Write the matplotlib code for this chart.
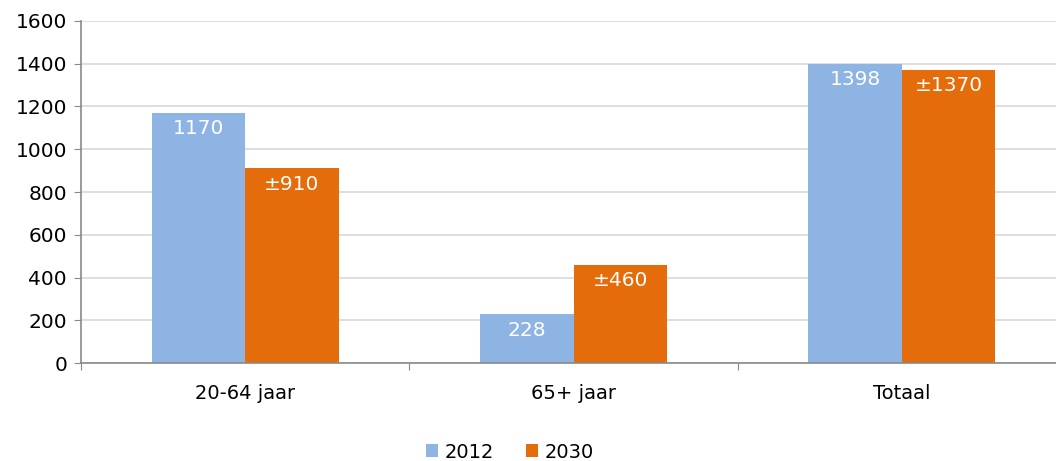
import numpy as np
import matplotlib.pyplot as plt

categories = ['20-64 jaar', '65+ jaar', 'Totaal']
years = ['2012', '2030']
values_2012 = [1170, 228, 1398]
values_2030 = [910, 460, 1370]
labels_2012 = ['1170', '228', '1398']
labels_2030 = ['±910', '±460', '±1370']
yticks = [0, 200, 400, 600, 800, 1000, 1200, 1400, 1600]

blue = '#8EB4E3'
orange = '#E46C0A'

plt.rcParams['font.family'] = ['DejaVu Sans']

fig = plt.figure(figsize=(10.56, 4.61), dpi=100)
ax = fig.add_axes([81 / 1056, 1 - 363 / 461, 985 / 1056, 342 / 461])

x = np.arange(len(categories))
w = 0.285
b1 = ax.bar(x - w / 2, values_2012, w, color=blue, label=years[0], zorder=2)
b2 = ax.bar(x + w / 2, values_2030, w, color=orange, label=years[1], zorder=2)

# value labels inside the top of each bar
for bars, labs in [(b1, labels_2012), (b2, labels_2030)]:
    for bar, lab in zip(bars, labs):
        ax.annotate(lab, (bar.get_x() + bar.get_width() / 2, bar.get_height()),
                    xytext=(0, -4.5), textcoords='offset points',
                    ha='center', va='top', color='white', fontsize=14.5, zorder=3)

ax.set_ylim(0, 1600)
ax.set_yticks(yticks)
ax.set_xlim(-0.5, 2.5)
ax.set_xticks([-0.5, 0.5, 1.5, 2.5])
ax.set_xticklabels([])
ax.set_xticks(x, minor=True)
ax.set_xticklabels(categories, minor=True)
ax.tick_params(axis='x', which='minor', length=0, pad=15, labelsize=14)
ax.tick_params(axis='x', which='major', length=5, color='#898989')
ax.tick_params(axis='y', length=5, color='#898989', labelsize=14.5, pad=5)

ax.yaxis.grid(True, color='#D9D9D9', linewidth=1.2, zorder=0)
ax.set_axisbelow(True)
for s in ['top', 'right']:
    ax.spines[s].set_visible(False)
for s in ['left', 'bottom']:
    ax.spines[s].set_color('#898989')
    ax.spines[s].set_linewidth(1.2)

fig.legend(handles=[b1, b2], loc='center', bbox_to_anchor=(510 / 1056, 1 - 452 / 461),
           ncol=2, frameon=False, fontsize=14, handlelength=0.6, handleheight=0.6,
           handletextpad=0.35, columnspacing=1.65)

fig.savefig('out.png', dpi=100)
